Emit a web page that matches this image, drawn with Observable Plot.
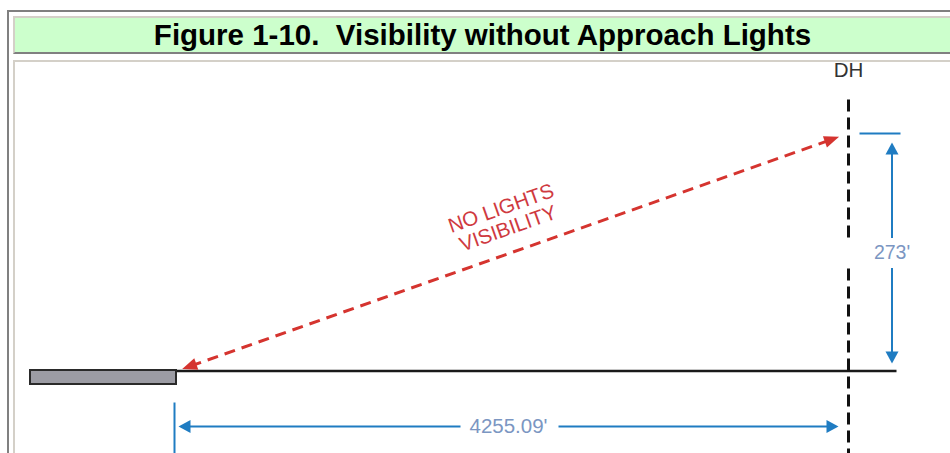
<!DOCTYPE html>
<html>
<head>
<meta charset="utf-8">
<script src="https://cdn.jsdelivr.net/npm/d3@7"></script>
<script src="https://cdn.jsdelivr.net/npm/@observablehq/plot@0.6"></script>
<style>
  html, body { margin: 0; padding: 0; background: #fff; }
  body { width: 950px; height: 453px; overflow: hidden; position: relative; font-family: "Liberation Sans", Arial, sans-serif; }
  #frame { position: absolute; left: 7px; top: 10px; width: 1000px; height: 500px; border-top: 2px solid #808080; border-left: 2px solid #808080; }
  #titlebar { position: absolute; left: 13px; top: 16px; width: 1000px; height: 34px; background: #ccffcc; border-top: 2px solid #d4d0c8; border-left: 2px solid #d4d0c8; border-bottom: 2px solid #808080; }
  #titleText { width: 935px; height: 34px; line-height: 34px; text-align: center; font-weight: bold; font-size: 29.5px; color: #000; white-space: pre; }
  #panel { position: absolute; left: 13px; top: 60px; width: 1000px; height: 500px; border-top: 2px solid #d4d0c8; border-left: 2px solid #d4d0c8; background: #fff; }
  #panel svg { display: block; }
</style>
</head>
<body>
<div id="frame"></div>
<div id="titlebar"><div id="titleText"></div></div>
<div id="panel"></div>
<script>
// ---------------- data ----------------
const titleText = "Figure 1-10.  Visibility without Approach Lights";
const stations = ["Threshold", "DH"];
const distanceFt = [0, 4255.09];      // horizontal distance from threshold
const heightFt = [0, 273];            // height above runway
const dimensionLabels = ["4255.09'", "273'"];
const sightLineLabel = ["NO LIGHTS", "VISIBILITY"];

// ---------------- layout (pixels) ----------------
const W = 935, H = 391;
const X_RANGE = [161, 833];   // pixel x of threshold and DH
const Y_RANGE = [308.5, 71];  // pixel y of ground and DH height

document.getElementById("titleText").textContent = titleText;

const D = distanceFt[1], HT = heightFt[1];
const sx = d3.scaleLinear().domain([distanceFt[0], D]).range(X_RANGE);
const sy = d3.scaleLinear().domain([heightFt[0], HT]).range(Y_RANGE);
const fx = px => sx.invert(px);
const fy = py => sy.invert(py);

const T = {px: sx(distanceFt[0]), py: sy(heightFt[0])};
const P = {px: sx(D), py: sy(HT)};

// arrowhead symbol with its tip at the origin, pointing up
const head = (L, Wd) => ({draw(ctx) { ctx.moveTo(0, 0); ctx.lineTo(-Wd / 2, L); ctx.lineTo(Wd / 2, L); ctx.closePath(); }});
const angleOf = (ux, uy) => Math.atan2(ux, -uy) * 180 / Math.PI;

// sight line (red)
const len = Math.hypot(P.px - T.px, P.py - T.py);
const ux = (P.px - T.px) / len, uy = (P.py - T.py) / len;
const A = {px: T.px + ux * 6, py: T.py + uy * 6};
const B = {px: P.px - ux * 10, py: P.py - uy * 10};
const RL = 15;
const redLine = [{x1: fx(A.px + ux * RL * 0.6), y1: fy(A.py + uy * RL * 0.6), x2: fx(B.px - ux * RL * 0.6), y2: fy(B.py - uy * RL * 0.6)}];
const redHeads = [
  {x: fx(A.px), y: fy(A.py), a: angleOf(-ux, -uy)},
  {x: fx(B.px), y: fy(B.py), a: angleOf(ux, uy)}
];
const mid = {x: fx((T.px + P.px) / 2), y: fy((T.py + P.py) / 2)};
const textAngle = Math.atan2(uy, ux) * 180 / Math.PI;

// runway & ground
const runway = [{x1: fx(T.px - 146), x2: fx(T.px), y1: fy(T.py - 0.5), y2: fy(T.py + 13.5)}];
const ground = [{x1: fx(T.px), y1: heightFt[0], x2: fx(P.px + 48), y2: heightFt[0]}];

// DH dashed line (with gap)
const dhSegs = [
  {x1: D, y1: fy(37), x2: D, y2: fy(175)},
  {x1: D, y1: fy(206), x2: D, y2: fy(H + 5)}
];

// vertical dimension (273')
const vx = P.px + 43.5;
const vTop = P.py + 9, vBot = T.py - 7.5, vMid = (vTop + vBot) / 2;
const vTick = [{x1: fx(P.px + 11), y1: HT, x2: fx(P.px + 52), y2: HT}];
const vSegs = [
  {x1: fx(vx), y1: fy(vTop + 6), x2: fx(vx), y2: fy(vMid - 15)},
  {x1: fx(vx), y1: fy(vMid + 15), x2: fx(vx), y2: fy(vBot - 6)}
];
const vHeads = [
  {x: fx(vx), y: fy(vTop), a: 0},
  {x: fx(vx), y: fy(vBot), a: 180}
];

// horizontal dimension (4255.09')
const hy = T.py + 55.5;
const hL = T.px + 2, hR = P.px - 10, hMid = (hL + hR) / 2;
const hTick = [{x1: fx(T.px - 2), y1: fy(T.py + 31.5), x2: fx(T.px - 2), y2: fy(H + 5)}];
const hSegs = [
  {x1: fx(hL + 6), y1: fy(hy), x2: fx(hMid - 48), y2: fy(hy)},
  {x1: fx(hMid + 50), y1: fy(hy), x2: fx(hR - 6), y2: fy(hy)}
];
const hHeads = [
  {x: fx(hL), y: fy(hy), a: -90},
  {x: fx(hR), y: fy(hy), a: 90}
];

const blue = "#1f7cc2", blueText = "#7b96c2", red = "#d5342f";
const font = "'Liberation Sans', Arial, sans-serif";
const link = (data, o) => Plot.link(data, {x1: "x1", y1: "y1", x2: "x2", y2: "y2", ...o});

const chart = Plot.plot({
  width: W, height: H, margin: 0,
  x: {domain: [distanceFt[0], D], range: X_RANGE, axis: null},
  y: {domain: [heightFt[0], HT], range: Y_RANGE, axis: null},
  style: {background: "transparent", overflow: "visible", fontFamily: font},
  marks: [
    // ground and runway
    link(ground, {stroke: "#1a1a1a", strokeWidth: 2.5}),
    Plot.rect(runway, {x1: "x1", x2: "x2", y1: "y1", y2: "y2", fill: "#9c9ca4", stroke: "#2a2a2a", strokeWidth: 2}),
    // DH line
    link(dhSegs, {stroke: "#111", strokeWidth: 3, strokeDasharray: "12,6"}),
    Plot.text([stations[1]], {x: D, y: fy(8), text: d => d, fontSize: 20.5, fill: "#333", lineAnchor: "middle"}),
    // sight line
    link(redLine, {stroke: red, strokeWidth: 3, strokeDasharray: "11,7"}),
    Plot.dot(redHeads, {x: "x", y: "y", rotate: "a", symbol: head(15, 12), fill: red, stroke: "none"}),
    Plot.text([sightLineLabel.join("\n")], {x: mid.x, y: mid.y, text: d => d, dx: -8, dy: -34, rotate: textAngle, fontSize: 20.5, lineHeight: 1.04, fill: "#cf3a3f", lineAnchor: "middle", textAnchor: "middle"}),
    // vertical dimension
    link(vTick, {stroke: blue, strokeWidth: 2}),
    link(vSegs, {stroke: blue, strokeWidth: 2}),
    Plot.dot(vHeads, {x: "x", y: "y", rotate: "a", symbol: head(12, 13), fill: blue, stroke: "none"}),
    Plot.text([dimensionLabels[1]], {x: fx(vx), y: fy(vMid), text: d => d, fontSize: 19.5, fill: blueText, lineAnchor: "middle"}),
    // horizontal dimension
    link(hTick, {stroke: blue, strokeWidth: 2}),
    link(hSegs, {stroke: blue, strokeWidth: 2}),
    Plot.dot(hHeads, {x: "x", y: "y", rotate: "a", symbol: head(12, 13), fill: blue, stroke: "none"}),
    Plot.text([dimensionLabels[0]], {x: fx(hMid), y: fy(hy), text: d => d, fontSize: 20.5, fill: blueText, lineAnchor: "middle"})
  ]
});
document.getElementById("panel").appendChild(chart);
</script>
</body>
</html>
